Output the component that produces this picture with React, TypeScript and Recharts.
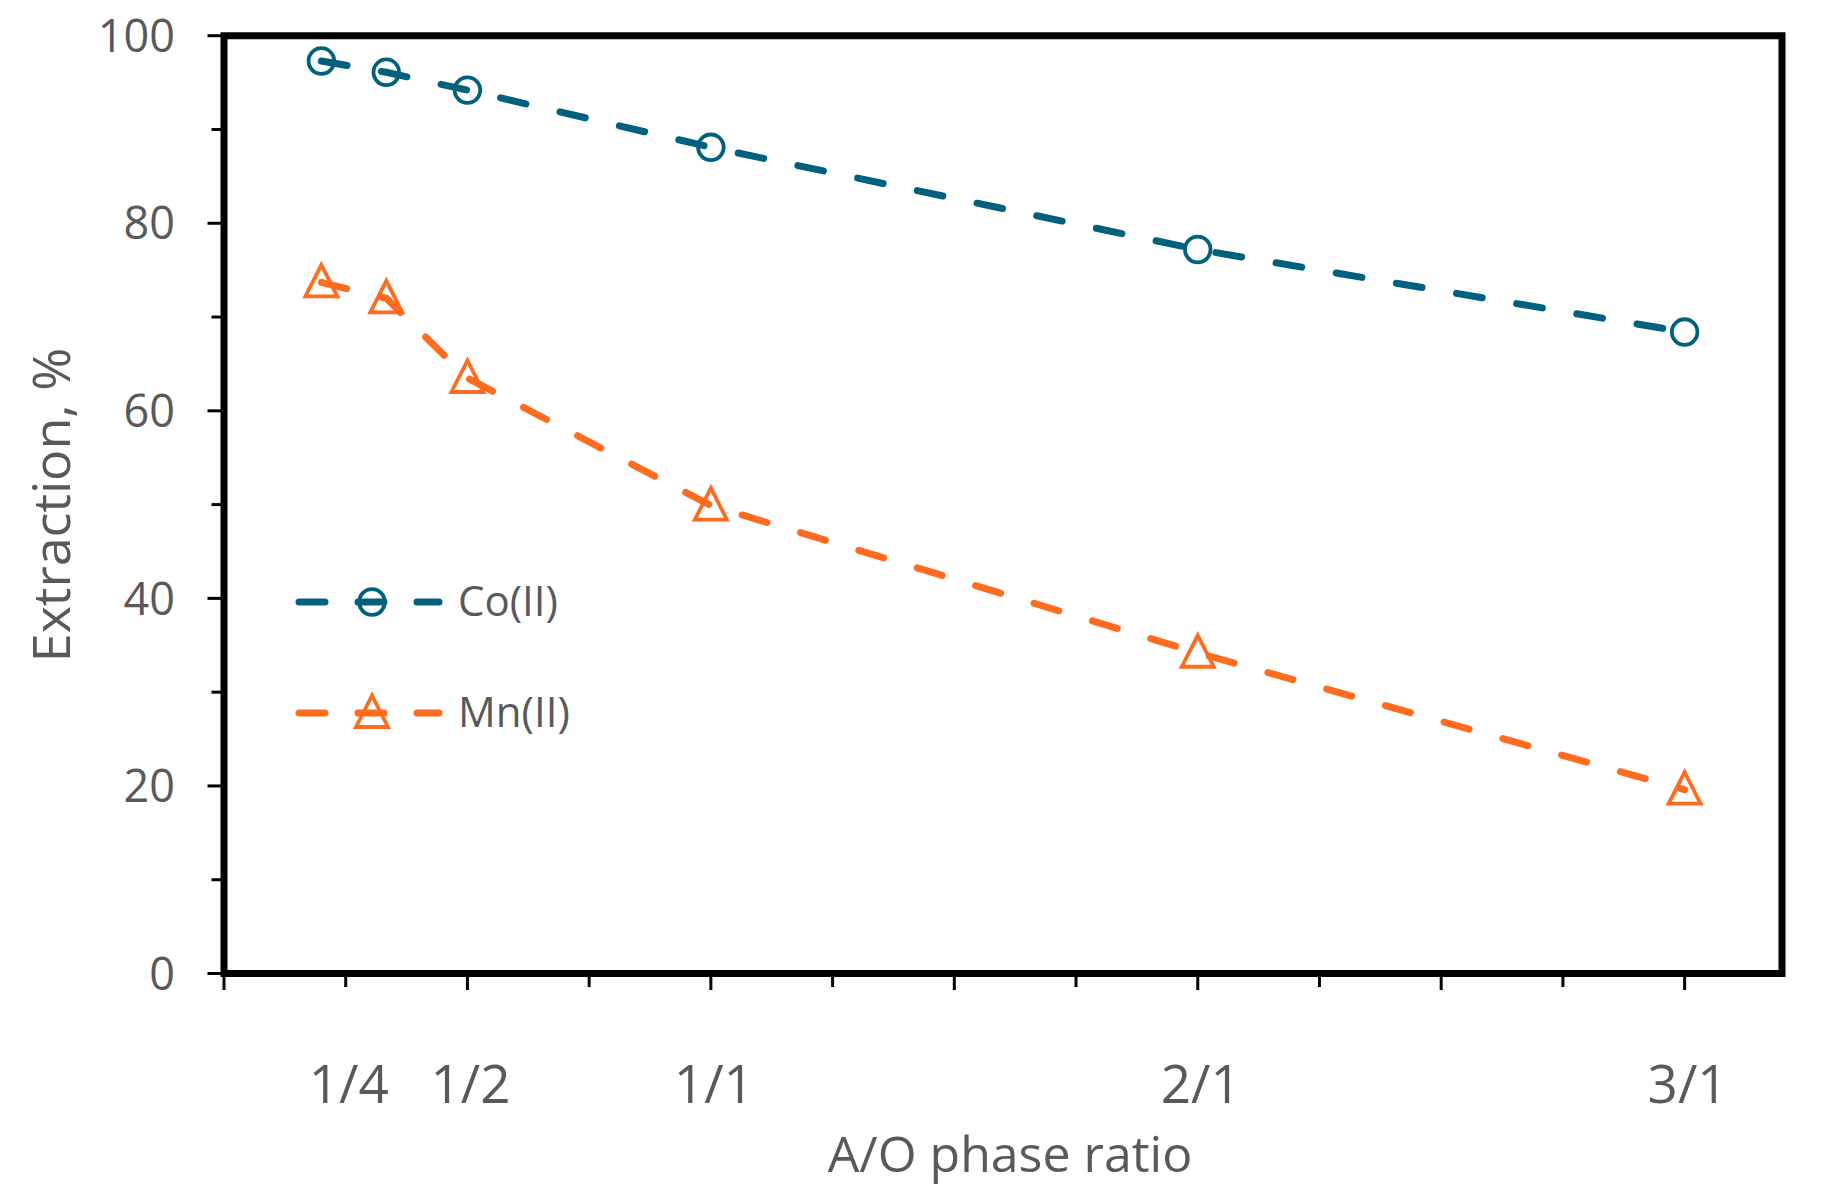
import React from 'react';
import { LineChart, Line, XAxis, YAxis, ReferenceArea, Legend } from 'recharts';

// ---- data ----
const phaseRatio = [0.2, 1 / 3, 0.5, 1, 2, 3];
const coExtraction = [97.3, 96.1, 94.2, 88.1, 77.2, 68.4];
const mnExtraction = [73.7, 72.0, 63.5, 49.9, 34.2, 19.6];

const xTicks = [0, 0.25, 0.5, 0.75, 1, 1.25, 1.5, 1.75, 2, 2.25, 2.5, 2.75, 3];
const xTickValues = [0.25, 0.5, 1, 2, 3];
const xTickTexts = ['1/4', '1/2', '1/1', '2/1', '3/1'];
const yTicks = [0, 10, 20, 30, 40, 50, 60, 70, 80, 90, 100];
const yLabelTicks = [0, 20, 40, 60, 80, 100];

const seriesNames = ['Co(II)', 'Mn(II)'];

const data = phaseRatio.map((x, i) => ({ x, co: coExtraction[i], mn: mnExtraction[i] }));

// ---- styles ----
const CO_COLOR = '#00617F';
const MN_COLOR = '#FF6C1F';
const TEXT_COLOR = '#595959';
const FONT = '"Open Sans", "Noto Sans", sans-serif';
const DASH = '26 35';
const LINE_W = 7;

const W = 1821;
const H = 1202;

const YTick = (props: any) => {
  const { x, y, payload } = props;
  const v = payload.value;
  const major = yLabelTicks.includes(v);
  const len = major ? 16.5 : 12.5;
  return (
    <g>
      <line x1={x - len} x2={x} y1={y} y2={y} stroke="#000" strokeWidth={3} />
      {major && (
        <text x={175} y={y} dy="0.36em" textAnchor="end" fontSize={45} fill={TEXT_COLOR} fontFamily={FONT}>
          {v}
        </text>
      )}
    </g>
  );
};

const XTick = (props: any) => {
  const { x, y, payload } = props;
  const v = payload.value;
  const major = Math.abs(v * 2 - Math.round(v * 2)) < 1e-6;
  const len = major ? 16.5 : 13.5;
  const idx = xTickValues.findIndex((t) => Math.abs(t - v) < 1e-6);
  return (
    <g>
      <line x1={x} x2={x} y1={y} y2={y + len} stroke="#000" strokeWidth={3} />
      {idx >= 0 && (
        <text x={x + 3} y={y + 129.5} textAnchor="middle" fontSize={53} fill={TEXT_COLOR} fontFamily={FONT}>
          {xTickTexts[idx]}
        </text>
      )}
    </g>
  );
};

const CircleDot = (props: any) => {
  const { cx, cy, stroke } = props;
  if (cx == null || cy == null) return null;
  return <circle cx={cx} cy={cy} r={12.8} fill="none" stroke={stroke || CO_COLOR} strokeWidth={3.8} />;
};

const TriangleDot = (props: any) => {
  const { cx, cy, stroke } = props;
  if (cx == null || cy == null) return null;
  const pts = `${cx},${cy - 17.5} ${cx - 16},${cy + 14} ${cx + 16},${cy + 14}`;
  return <polygon points={pts} fill="none" stroke={stroke || MN_COLOR} strokeWidth={3.8} />;
};

const LegendContent = () => {
  const rows = [
    { name: seriesNames[0], color: CO_COLOR, y: 42, marker: 'circle' },
    { name: seriesNames[1], color: MN_COLOR, y: 153, marker: 'triangle' },
  ];
  return (
    <svg width={260} height={200} style={{ overflow: 'visible' }}>
      {rows.map((r) => (
        <g key={r.name}>
          <line
            x1={22}
            x2={162}
            y1={r.y}
            y2={r.y}
            stroke={r.color}
            strokeWidth={LINE_W}
            strokeDasharray="26 33"
            strokeLinecap="round"
          />
          {r.marker === 'circle' ? (
            <CircleDot cx={95} cy={r.y} stroke={r.color} />
          ) : (
            <TriangleDot cx={95} cy={r.y} stroke={r.color} />
          )}
          <text x={181} y={r.y + 14} fontSize={42} fill={TEXT_COLOR} fontFamily={FONT}>
            {r.name}
          </text>
        </g>
      ))}
    </svg>
  );
};

export default function App() {
  return (
    <div style={{ position: 'absolute', left: 0, top: 0, width: W, height: H, background: '#fff' }}>
      <LineChart width={W} height={H} data={data} margin={{ top: 35.7, right: 39, bottom: 0, left: 0 }}>
        <XAxis
          dataKey="x"
          type="number"
          domain={[0, 3.2]}
          ticks={xTicks}
          interval={0}
          allowDataOverflow
          height={228.5}
          axisLine={false}
          tickLine={false}
          tickSize={0}
          tickMargin={0}
          tick={<XTick />}
          label={{
            content: () => (
              <text x={1010} y={1172} textAnchor="middle" fontSize={50} fill={TEXT_COLOR} fontFamily={FONT}>
                A/O phase ratio
              </text>
            ),
          }}
        />
        <YAxis
          type="number"
          domain={[0, 100]}
          ticks={yTicks}
          interval={0}
          allowDataOverflow
          width={224}
          axisLine={false}
          tickLine={false}
          tickSize={0}
          tickMargin={0}
          tick={<YTick />}
          label={{
            content: () => (
              <text
                x={70}
                y={505}
                transform="rotate(-90 70 505)"
                textAnchor="middle"
                fontSize={52}
                fill={TEXT_COLOR}
                fontFamily={FONT}
              >
                Extraction, %
              </text>
            ),
          }}
        />
        <ReferenceArea x1={0} x2={3.2} y1={0} y2={100} fill="none" stroke="#000" strokeWidth={7} ifOverflow="visible" />
        <Line
          type="linear"
          dataKey="co"
          name={seriesNames[0]}
          stroke={CO_COLOR}
          strokeWidth={LINE_W}
          strokeDasharray={DASH}
          strokeLinecap="round"
          dot={<CircleDot stroke={CO_COLOR} />}
          activeDot={false}
          isAnimationActive={false}
        />
        <Line
          type="linear"
          dataKey="mn"
          name={seriesNames[1]}
          stroke={MN_COLOR}
          strokeWidth={LINE_W}
          strokeDasharray={DASH}
          strokeLinecap="round"
          dot={<TriangleDot stroke={MN_COLOR} />}
          activeDot={false}
          isAnimationActive={false}
        />
        <Legend
          layout="vertical"
          align="center"
          verticalAlign="middle"
          content={<LegendContent />}
          wrapperStyle={{ position: 'absolute', left: 277, top: 560, width: 260, height: 200 }}
        />
      </LineChart>
    </div>
  );
}
